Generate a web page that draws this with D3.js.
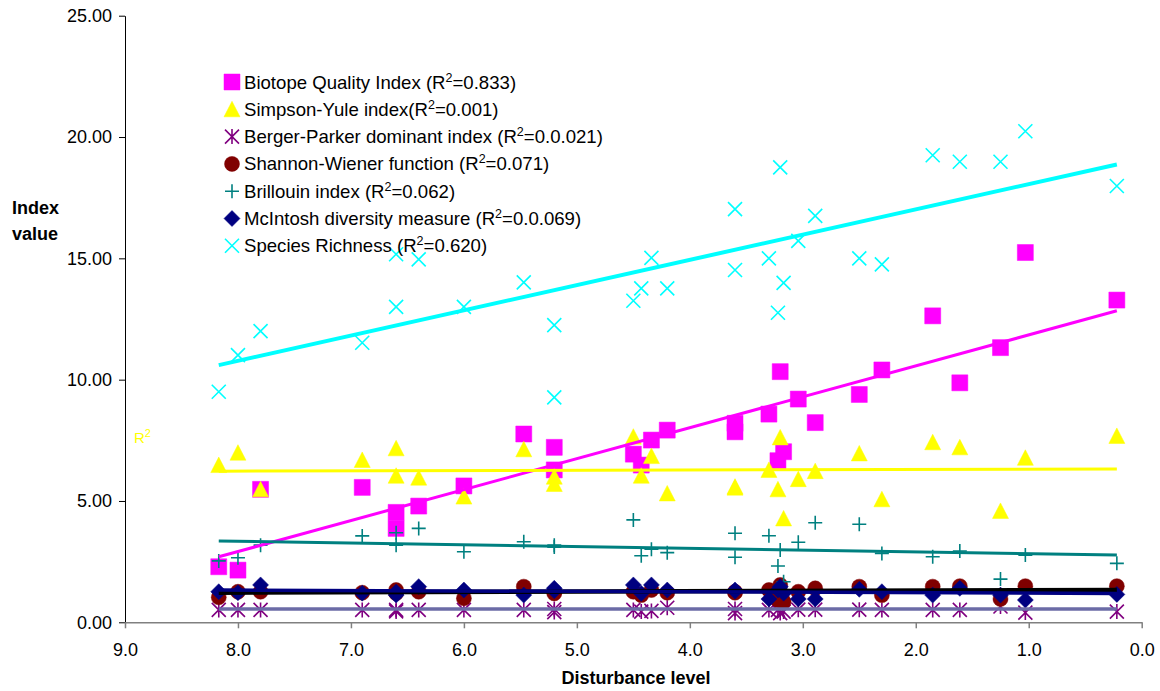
<!DOCTYPE html>
<html>
<head>
<meta charset="utf-8">
<script src="https://cdn.jsdelivr.net/npm/d3@7"></script>
<style>
    body { margin: 0; background: #fff; }
    text { font-family: Arial, "Liberation Sans", sans-serif; }
</style>
</head>
<body>
<div id="chart"></div>
<script>
// disturbance level of every sampled site
var sites = [8.17, 8.0, 7.8, 6.9, 6.6, 6.6, 6.4, 6.0, 5.47, 5.2, 5.2, 4.5, 4.43, 4.34, 4.2,
    3.6, 3.6, 3.3, 3.2, 3.22, 3.17, 3.04, 2.89, 2.5, 2.3, 1.85, 1.61, 1.25, 1.03, 0.22];

var biotope = [2.29, 2.15, 5.48, 5.56, 4.53, 3.87, 4.79, 5.62, 7.76, 7.21, 6.28, 6.93, 6.48, 7.51, 7.92,
    8.2, 7.85, 8.58, 10.33, 6.66, 7.03, 9.2, 8.23, 9.39, 10.4, 12.63, 9.87, 11.32, 15.24, 13.28];
var simpson = [6.48, 6.99, 5.48, 6.69, 7.17, 6.04, 5.96, 5.18, 7.13, 6.0, 5.7, 7.65, 6.04, 6.85, 5.31,
    5.59, 5.55, 6.28, 7.62, 5.48, 4.28, 5.9, 6.23, 6.96, 5.07, 7.42, 7.21, 4.59, 6.78, 7.68];
var berger = [0.51, 0.51, 0.51, 0.51, 0.51, 0.45, 0.51, 0.51, 0.51, 0.55, 0.42, 0.51, 0.44, 0.47, 0.6,
    0.55, 0.38, 0.51, 0.38, 0.51, 0.44, 0.52, 0.52, 0.52, 0.51, 0.51, 0.51, 0.65, 0.4, 0.44];
var shannon = [1.03, 1.26, 1.26, 1.22, 1.33, 1.2, 1.26, 0.99, 1.47, 1.19, 1.26, 1.26, 1.12, 1.33, 1.22,
    1.26, 1.22, 1.33, 1.54, 0.92, 0.85, 1.26, 1.4, 1.47, 1.12, 1.47, 1.49, 0.96, 1.49, 1.49];
var brillouin = [2.53, 2.66, 3.18, 3.56, 3.69, 3.18, 3.87, 2.91, 3.32, 3.18, 3.1, 4.22, 2.74, 3.01, 2.87,
    3.67, 2.68, 3.57, 2.98, 2.32, 1.67, 3.3, 4.1, 4.04, 2.84, 2.7, 2.94, 1.78, 2.77, 2.43];
var mcintosh = [1.26, 1.22, 1.54, 1.2, 1.12, 1.25, 1.47, 1.33, 1.12, 1.4, 1.3, 1.54, 1.19, 1.54, 1.33,
    1.33, 1.28, 0.96, 1.47, 1.33, 1.2, 0.96, 0.96, 1.36, 1.26, 1.12, 1.4, 1.12, 0.92, 1.15];
var richness = [9.5, 11.01, 12.0, 11.52, 13.0, 15.17, 14.96, 13.0, 14.01, 12.25, 9.27, 13.25, 13.76, 15.02, 13.76,
    17.03, 14.52, 15.0, 18.75, 12.76, 13.99, 15.72, 16.75, 15.0, 14.75, 19.25, 18.98, 18.98, 20.24, 17.98];

// linear trend values read at the first (8.17) and last (0.22) site
var trendStart = [2.70, 6.23, 0.55, 1.22, 3.35, 1.33, 10.6];
var trendEnd = [12.84, 6.32, 0.55, 1.33, 2.77, 1.19, 18.87];

var seriesNames = ['Biotope Quality Index (R', 'Simpson-Yule index(R', 'Berger-Parker dominant index (R',
    'Shannon-Wiener function (R', 'Brillouin index (R', 'McIntosh diversity measure (R', 'Species Richness (R'];
var seriesR2 = ['=0.833)', '=0.001)', '=0.0.021)', '=0.071)', '=0.062)', '=0.0.069)', '=0.620)'];

var yTicks = [0, 5, 10, 15, 20, 25];
var xTicks = [9, 8, 7, 6, 5, 4, 3, 2, 1, 0];

var series = [
    {values: biotope, marker: 'square', color: '#ff00ff', trend: '#ff00ff', tw: 3},
    {values: simpson, marker: 'triangle', color: '#ffff00', trend: '#ffff00', tw: 3},
    {values: berger, marker: 'star', color: '#800080', trend: '#6b6ba6', tw: 3.5},
    {values: shannon, marker: 'circle', color: '#800000', trend: '#000000', tw: 4.5},
    {values: brillouin, marker: 'plus', color: '#008080', trend: '#008080', tw: 3},
    {values: mcintosh, marker: 'diamond', color: '#000080', trend: '#000080', tw: 3.5},
    {values: richness, marker: 'cross', color: '#00ffff', trend: '#00ffff', tw: 4}
];
series.forEach(function(s, i) {
    s.name = seriesNames[i];
    s.r2 = seriesR2[i];
    s.t0 = trendStart[i];
    s.t1 = trendEnd[i];
});

var filled = {square: true, triangle: true, circle: true, diamond: true};

function markerPath(type) {
    switch (type) {
        case 'square': return 'M-8,-8h16v16h-16z';
        case 'triangle': return 'M0,-8L8,7.5L-8,7.5Z';
        case 'circle': return 'M-7.5,0a7.5,7.5 0 1,0 15,0a7.5,7.5 0 1,0 -15,0Z';
        case 'diamond': return 'M0,-8L8,0L0,8L-8,0Z';
        case 'cross': return 'M-7,-7L7,7M-7,7L7,-7';
        case 'plus': return 'M-7,0H7M0,-7V7';
        case 'star': return 'M-7,-7L7,7M-7,7L7,-7M0,-7.5V7.5';
    }
}

function styleMarker(sel, s) {
    sel.attr('d', markerPath(s.marker))
        .attr('fill', filled[s.marker] ? s.color : 'none')
        .attr('stroke', s.color)
        .attr('stroke-width', filled[s.marker] ? 0.5 : 1.6);
}

var width = 1160, height = 691;
var x = d3.scaleLinear().domain([9, 0]).range([125, 1141.7]);
var y = d3.scaleLinear().domain([0, 25]).range([622.3, 15.7]);

var svg = d3.select('#chart').append('svg')
    .attr('width', width).attr('height', height);

// axes
var yAxis = svg.append('g').attr('transform', 'translate(125,0)')
    .call(d3.axisLeft(y).tickValues(yTicks).tickFormat(d3.format('.2f')).tickSize(6).tickSizeOuter(0).tickPadding(7));
yAxis.selectAll('text').style('font-size', '18px').attr('fill', '#000');
yAxis.selectAll('line, path').attr('stroke', '#000');

var xAxis = svg.append('g').attr('transform', 'translate(0,622.3)')
    .call(d3.axisBottom(x).tickValues(xTicks).tickFormat(d3.format('.1f')).tickSize(6).tickSizeOuter(0).tickPadding(15));
xAxis.selectAll('text').style('font-size', '18px').attr('fill', '#000');
xAxis.selectAll('line, path').attr('stroke', '#808080').attr('stroke-width', 1.5);

svg.append('text').attr('x', 12).attr('y', 214).style('font-size', '18px').style('font-weight', 'bold').text('Index');
svg.append('text').attr('x', 12).attr('y', 240).style('font-size', '18px').style('font-weight', 'bold').text('value');
svg.append('text').attr('x', 636).attr('y', 684).attr('text-anchor', 'middle')
    .style('font-size', '18px').style('font-weight', 'bold').text('Disturbance level');

// stray R² label
var r2 = svg.append('text').attr('x', 134).attr('y', 443).attr('fill', '#ffff00').style('font-size', '15px');
r2.append('tspan').text('R');
r2.append('tspan').attr('dy', -6).style('font-size', '11px').text('2');

// markers
series.forEach(function(s) {
    svg.append('g').selectAll('path').data(s.values).enter().append('path')
        .attr('transform', function(d, i) { return 'translate(' + x(sites[i]) + ',' + y(d) + ')'; })
        .call(styleMarker, s);
});

// trend lines
var xMax = d3.max(sites), xMin = d3.min(sites);
series.forEach(function(s) {
    svg.append('line')
        .attr('x1', x(xMax)).attr('y1', y(s.t0))
        .attr('x2', x(xMin)).attr('y2', y(s.t1))
        .attr('stroke', s.trend).attr('stroke-width', s.tw);
});

// legend
var legend = svg.append('g').selectAll('g').data(series).enter().append('g')
    .attr('transform', function(d, i) { return 'translate(232,' + (82 + i * 27.3) + ')'; });
legend.append('path').each(function(s) { d3.select(this).call(styleMarker, s); });
var lt = legend.append('text').attr('x', 12).attr('y', 6.5).style('font-size', '18.6px');
lt.append('tspan').text(function(d) { return d.name; });
lt.append('tspan').attr('dy', -7).style('font-size', '12.5px').text('2');
lt.append('tspan').attr('dy', 7).text(function(d) { return d.r2; });
</script>
</body>
</html>
